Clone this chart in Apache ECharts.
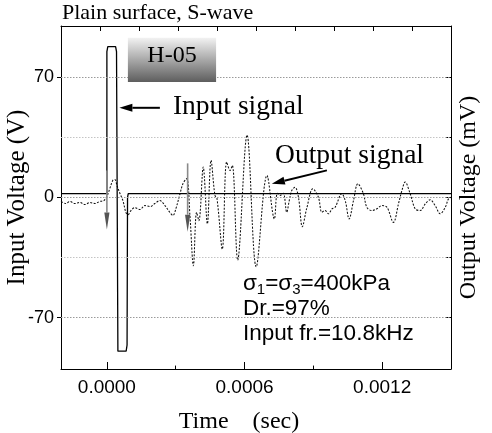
<!DOCTYPE html>
<html><head><meta charset="utf-8">
<script src="https://cdn.jsdelivr.net/npm/echarts@6/dist/echarts.min.js"></script>
<style>html,body{margin:0;padding:0;background:#fff}#c{width:492px;height:433px}</style>
</head><body><div id="c"></div>
<script>
// ---------- data ----------
const chartTitle = 'Plain surface, S-wave';
const xTickValues = [0, 0.0006, 0.0012];
const xMinorTickValues = [0.0003, 0.0009];
const yTickValues = [-70, 0, 70];
const yGridValues = [-70, -35, 0, 35, 70];

// input signal (V) vs time (s)
const inputTime = [-0.0002, 0, 0, 0.000004, 0.000038, 0.000042, 0.000048, 0.000084, 0.000088, 0.000090, 0.000093, 0.0015];
const inputVolt = [2.3, 2.3, 85, 88, 88, 85, -89.6, -89.6, -86, 0, 2.3, 2.3];

// output signal vs time (s)
const outputTime = [-0.000200,-0.000179,-0.000161,-0.000140,-0.000118,-0.000096,-0.000074,-0.000052,-0.000031,-0.000013,
  0.000000,0.000013,0.000026,0.000035,0.000044,0.000057,0.000070,0.000083,0.000092,0.000105,0.000122,0.000144,0.000166,
  0.000188,0.000209,0.000231,0.000253,0.000275,0.000288,0.000301,0.000319,0.000332,0.000348,0.000362,0.000377,0.000391,
  0.000401,0.000420,0.000438,0.000454,0.000471,0.000480,0.000503,0.000522,0.000537,0.000547,0.000570,0.000611,0.000651,
  0.000698,0.000730,0.000743,0.000755,0.000769,0.000784,0.000795,0.000806,0.000820,0.000835,0.000852,0.000871,0.000898,
  0.000922,0.000937,0.000951,0.000966,0.000981,0.000995,0.001024,0.001039,0.001056,0.001075,0.001094,0.001118,0.001133,
  0.001155,0.001177,0.001199,0.001221,0.001249,0.001271,0.001286,0.001300,0.001322,0.001344,0.001366,0.001388,0.001409,
  0.001431,0.001453,0.001475,0.001489,0.001500];
const outputVolt = [-2.3,-3.5,-2.3,-3.5,-2.9,-4.1,-2.9,-3.5,-2.3,-1.8,
  0.6,5.3,10.0,10.5,7.0,2.3,-1.8,-8.8,-10.0,-7.6,-5.9,-7.0,-4.7,
  -5.3,-3.5,-1.8,-4.7,-8.8,-10.5,-6.4,2.3,8.2,11.0,-10.5,-39.8,-8.6,
  -13.5,17.7,-15.4,21.7,1.2,-0.6,-30.1,20.7,15.8,18.7,-36.5,36.3,-40.4,
  12.9,-12.5,2.5,1.2,2.5,-8.6,-1.8,4.1,6.0,0.2,-17.0,-6.4,5.1,
  0.2,-8.6,-7.6,-9.5,-6.6,-5.7,2.2,-1.8,-12.5,-1.8,8.0,2.3,-5.7,
  -7.6,-6.6,-4.7,-5.7,-14.5,-3.7,4.1,9.0,2.2,-6.6,-7.6,-3.7,-1.3,
  -4.7,-9.5,-5.7,-0.8,0.2];

// annotation anchors, in data units [time, volt]
const inputArrow = [[0.000231, 52.3], [0.0000545, 52.3]];
const outputArrow = [[0.000959, 15.8], [0.000719, 8.0]];
const grayArrows = [[[0, 15.8], [0, -18.7]], [[0.000352, 19.9], [0.000352, -19.9]]];
const boxCorners = [[0.0000916, 93.1], [0.000476, 67.4]];
const inputLabelAt = [0.000288, 52.7];
const outputLabelAt = [0.000733, 24.6];
const condAt = [[0.000593, -50.4], [0.000593, -65.0], [0.000593, -79.7]];
const condLines = ['{n|σ}{s|1}{n|=σ}{s|3}{n|=400kPa}', '{n|Dr.=97%}', '{n|Input fr.=10.8kHz}'];

// ---------- chart ----------
const SERIF = '"Liberation Serif", "Times New Roman", serif';
const SANS = '"Liberation Sans", Arial, sans-serif';
const zip = (a, b) => a.map((v, i) => [v, b[i]]);

const chart = echarts.init(document.getElementById('c'), null, {renderer: 'canvas'});
const option = {
  animation: false,
  backgroundColor: '#fff',
  title: {text: chartTitle, left: 62, top: 2, padding: 0,
    textStyle: {fontFamily: SERIF, fontSize: 22, fontWeight: 'normal', color: '#000'}},
  grid: {left: 61, right: 41, top: 26, bottom: 64, containLabel: false, outerBoundsMode: 'none'},
  xAxis: [{
    type: 'value', min: -0.0002, max: 0.0015, position: 'bottom',
    name: 'Time    (sec)', nameLocation: 'middle', nameGap: 41, nameMoveOverlap: false,
    nameTextStyle: {fontFamily: SERIF, fontSize: 24, color: '#000', padding: [0, 34, 0, 0]},
    axisLine: {show: true, onZero: false, lineStyle: {color: '#000', width: 1}},
    axisTick: {show: true, inside: true, length: 7, customValues: xTickValues, lineStyle: {color: '#000'}},
    axisLabel: {customValues: xTickValues, margin: 9, fontFamily: SANS, fontSize: 19, color: '#000',
      formatter: v => v.toFixed(4)},
    splitLine: {show: false}
  }, {
    type: 'value', min: 0, max: 10, interval: 1, position: 'top',
    axisLine: {show: true, onZero: false, lineStyle: {color: '#000', width: 1}},
    axisTick: {show: true, inside: true, length: 5, lineStyle: {color: '#000'}},
    axisLabel: {show: false}, splitLine: {show: false}
  }],
  yAxis: [{
    type: 'value', min: -100, max: 100, position: 'left',
    name: 'Input Voltage (V)', nameLocation: 'middle', nameGap: 31, nameRotate: 90, nameMoveOverlap: false,
    nameTextStyle: {fontFamily: SERIF, fontSize: 25, color: '#000'},
    axisLine: {show: true, onZero: false, lineStyle: {color: '#000', width: 1}},
    axisTick: {show: true, inside: false, length: 4, customValues: yTickValues, lineStyle: {color: '#000'}},
    axisLabel: {customValues: yTickValues, margin: 7, fontFamily: SANS, fontSize: 18, color: '#000'},
    splitLine: {show: false}
  }, {
    type: 'value', min: -100, max: 100, position: 'right',
    name: 'Output Voltage (mV)', nameLocation: 'middle', nameGap: 6, nameRotate: 90, nameMoveOverlap: false,
    nameTextStyle: {fontFamily: SERIF, fontSize: 24, color: '#000', verticalAlign: 'top'},
    axisLine: {show: true, onZero: false, lineStyle: {color: '#000', width: 1}},
    axisTick: {show: true, inside: true, length: 6, customValues: yGridValues, lineStyle: {color: '#000'}},
    axisLabel: {show: false},
    splitLine: {show: false}
  }],
  series: [{
    name: 'Output signal', type: 'line', xAxisIndex: 0, yAxisIndex: 1,
    data: zip(outputTime, outputVolt), showSymbol: false, smooth: 0.35,
    lineStyle: {color: '#111', width: 1.05, type: [2, 1.5]},
    markLine: {
      silent: true, symbol: ['none', 'none'], label: {show: false},
      data: yGridValues.map(v => ({yAxis: v, lineStyle: {type: [1.5, 1.5], width: 1,
        color: Math.abs(v) === 35 ? '#c4c4c4' : '#9a9a9a'}}))
    }
  }, {
    name: 'Input signal', type: 'line', xAxisIndex: 0, yAxisIndex: 0,
    data: zip(inputTime, inputVolt), showSymbol: false,
    lineStyle: {color: '#000', width: 1.3},
    markLine: {
      silent: true, symbol: ['none', 'none'], label: {show: false},
      lineStyle: {color: '#000', type: 'solid', width: 1},
      data: xMinorTickValues.map(t => [{coord: [t, -100]}, {coord: [t, -98]}])
    }
  }]
};
chart.setOption(option);

// ---------- annotations ----------
const P = p => chart.convertToPixel({xAxisIndex: 0, yAxisIndex: 0}, p);
function arrow(a, b, color, width, headLen, headHalf, headColor) {
  const p0 = P(a), p1 = P(b);
  const dx = p1[0] - p0[0], dy = p1[1] - p0[1];
  const L = Math.hypot(dx, dy), ux = dx / L, uy = dy / L;
  const bx = p1[0] - ux * headLen, by = p1[1] - uy * headLen;
  return [
    {type: 'line', shape: {x1: p0[0], y1: p0[1], x2: bx, y2: by},
      style: {stroke: color, lineWidth: width}, z: 100},
    {type: 'polygon', shape: {points: [[p1[0], p1[1]],
      [bx - uy * headHalf, by + ux * headHalf], [bx + uy * headHalf, by - ux * headHalf]]},
      style: {fill: headColor || color}, z: 100}
  ];
}
const b0 = P(boxCorners[0]), b1 = P(boxCorners[1]);
const elements = [].concat(
  arrow(inputArrow[0], inputArrow[1], '#000', 2, 13, 4),
  arrow(outputArrow[0], outputArrow[1], '#000', 2, 13, 4),
  arrow(grayArrows[0][0], grayArrows[0][1], '#8a8a8a', 1.6, 17, 2.6, '#555'),
  arrow(grayArrows[1][0], grayArrows[1][1], '#8a8a8a', 1.6, 17, 2.6, '#555'),
  [{
    type: 'rect', shape: {x: b0[0], y: b0[1], width: b1[0] - b0[0], height: b1[1] - b0[1]},
    style: {fill: new echarts.graphic.LinearGradient(0, 0, 0, 1, [
      {offset: 0, color: '#f2f2f2'}, {offset: 1, color: '#5e5e5e'}])}, z: 90
  }, {
    type: 'text', x: (b0[0] + b1[0]) / 2, y: b0[1] + 18,
    style: {text: 'H-05', fontFamily: SERIF, fontSize: 24, fill: '#000', align: 'center', verticalAlign: 'middle'}, z: 95
  }, {
    type: 'text', x: P(inputLabelAt)[0], y: P(inputLabelAt)[1],
    style: {text: 'Input signal', fontFamily: SERIF, fontSize: 27.5, fill: '#000', align: 'left', verticalAlign: 'middle'}, z: 95
  }, {
    type: 'text', x: P(outputLabelAt)[0], y: P(outputLabelAt)[1],
    style: {text: 'Output signal', fontFamily: SERIF, fontSize: 27.5, fill: '#000', align: 'left', verticalAlign: 'middle'}, z: 95
  }],
  condLines.map((t, i) => ({
    type: 'text', x: P(condAt[i])[0], y: P(condAt[i])[1],
    style: {text: t, align: 'left', verticalAlign: 'middle', fill: '#000',
      rich: {n: {fontFamily: SANS, fontSize: 22.5, lineHeight: 26, verticalAlign: 'middle', fill: '#000'},
             s: {fontFamily: SANS, fontSize: 15, lineHeight: 15, verticalAlign: 'bottom', fill: '#000'}}},
    z: 95
  }))
);
chart.setOption({graphic: {elements: elements}});
</script></body></html>
